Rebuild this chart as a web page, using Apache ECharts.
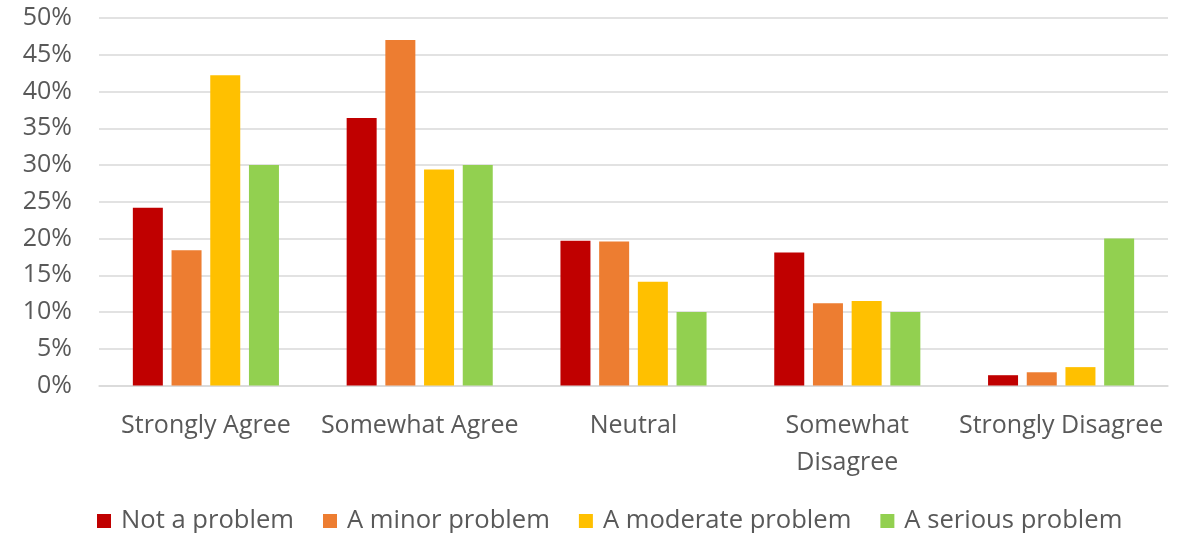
<!DOCTYPE html>
<html><head><meta charset="utf-8">
<script src="https://cdn.jsdelivr.net/npm/echarts@6/dist/echarts.min.js"></script>
<style>html,body{margin:0;padding:0;background:#fff}#c{width:1191px;height:533px}</style>
</head><body><div id="c"></div>
<script>
const categories = ['Strongly Agree','Somewhat Agree','Neutral','Somewhat Disagree','Strongly Disagree'];
const notAProblem = [24.2, 36.4, 19.7, 18.1, 1.4];
const minorProblem = [18.4, 47.0, 19.6, 11.2, 1.8];
const moderateProblem = [42.2, 29.4, 14.1, 11.5, 2.5];
const seriousProblem = [30.0, 30.0, 10.0, 10.0, 20.0];
const seriesNames = ['Not a problem','A minor problem','A moderate problem','A serious problem'];
const colors = ['#C00000','#ED7D31','#FFC000','#92D050'];
const FONT = 'Open Sans';
const chart = echarts.init(document.getElementById('c'));
const vals = [notAProblem, minorProblem, moderateProblem, seriousProblem];
chart.setOption({
  animation: false,
  color: colors,
  grid: {left: 99, right: 23, top: 18, bottom: 147.5, containLabel: false},
  legend: {
    top: 503, left: 92, itemWidth: 14, itemHeight: 14, itemGap: 29, icon: 'rect',
    textStyle: {fontFamily: FONT, fontSize: 25.6, color: '#595959', padding: [0,0,0,5]},
    data: seriesNames
  },
  xAxis: {
    type: 'category', data: categories,
    axisLine: {lineStyle: {color: '#d9d9d9', width: 1.5}},
    axisTick: {show: false},
    axisLabel: {fontFamily: FONT, fontSize: 25, color: '#595959', margin: 22, lineHeight: 37, interval: 0,
      formatter: v => v === 'Somewhat Disagree' ? 'Somewhat\nDisagree' : v}
  },
  yAxis: {
    type: 'value', min: 0, max: 50, interval: 5,
    axisLine: {show: false}, axisTick: {show: false},
    splitLine: {lineStyle: {color: '#d9d9d9', width: 1.5}},
    axisLabel: {fontFamily: FONT, fontSize: 25, color: '#595959', margin: 27, formatter: '{value}%'}
  },
  series: vals.map((d, i) => ({
    name: seriesNames[i], type: 'bar', data: d, barWidth: 30, barGap: '29%'
  }))
});
</script></body></html>
